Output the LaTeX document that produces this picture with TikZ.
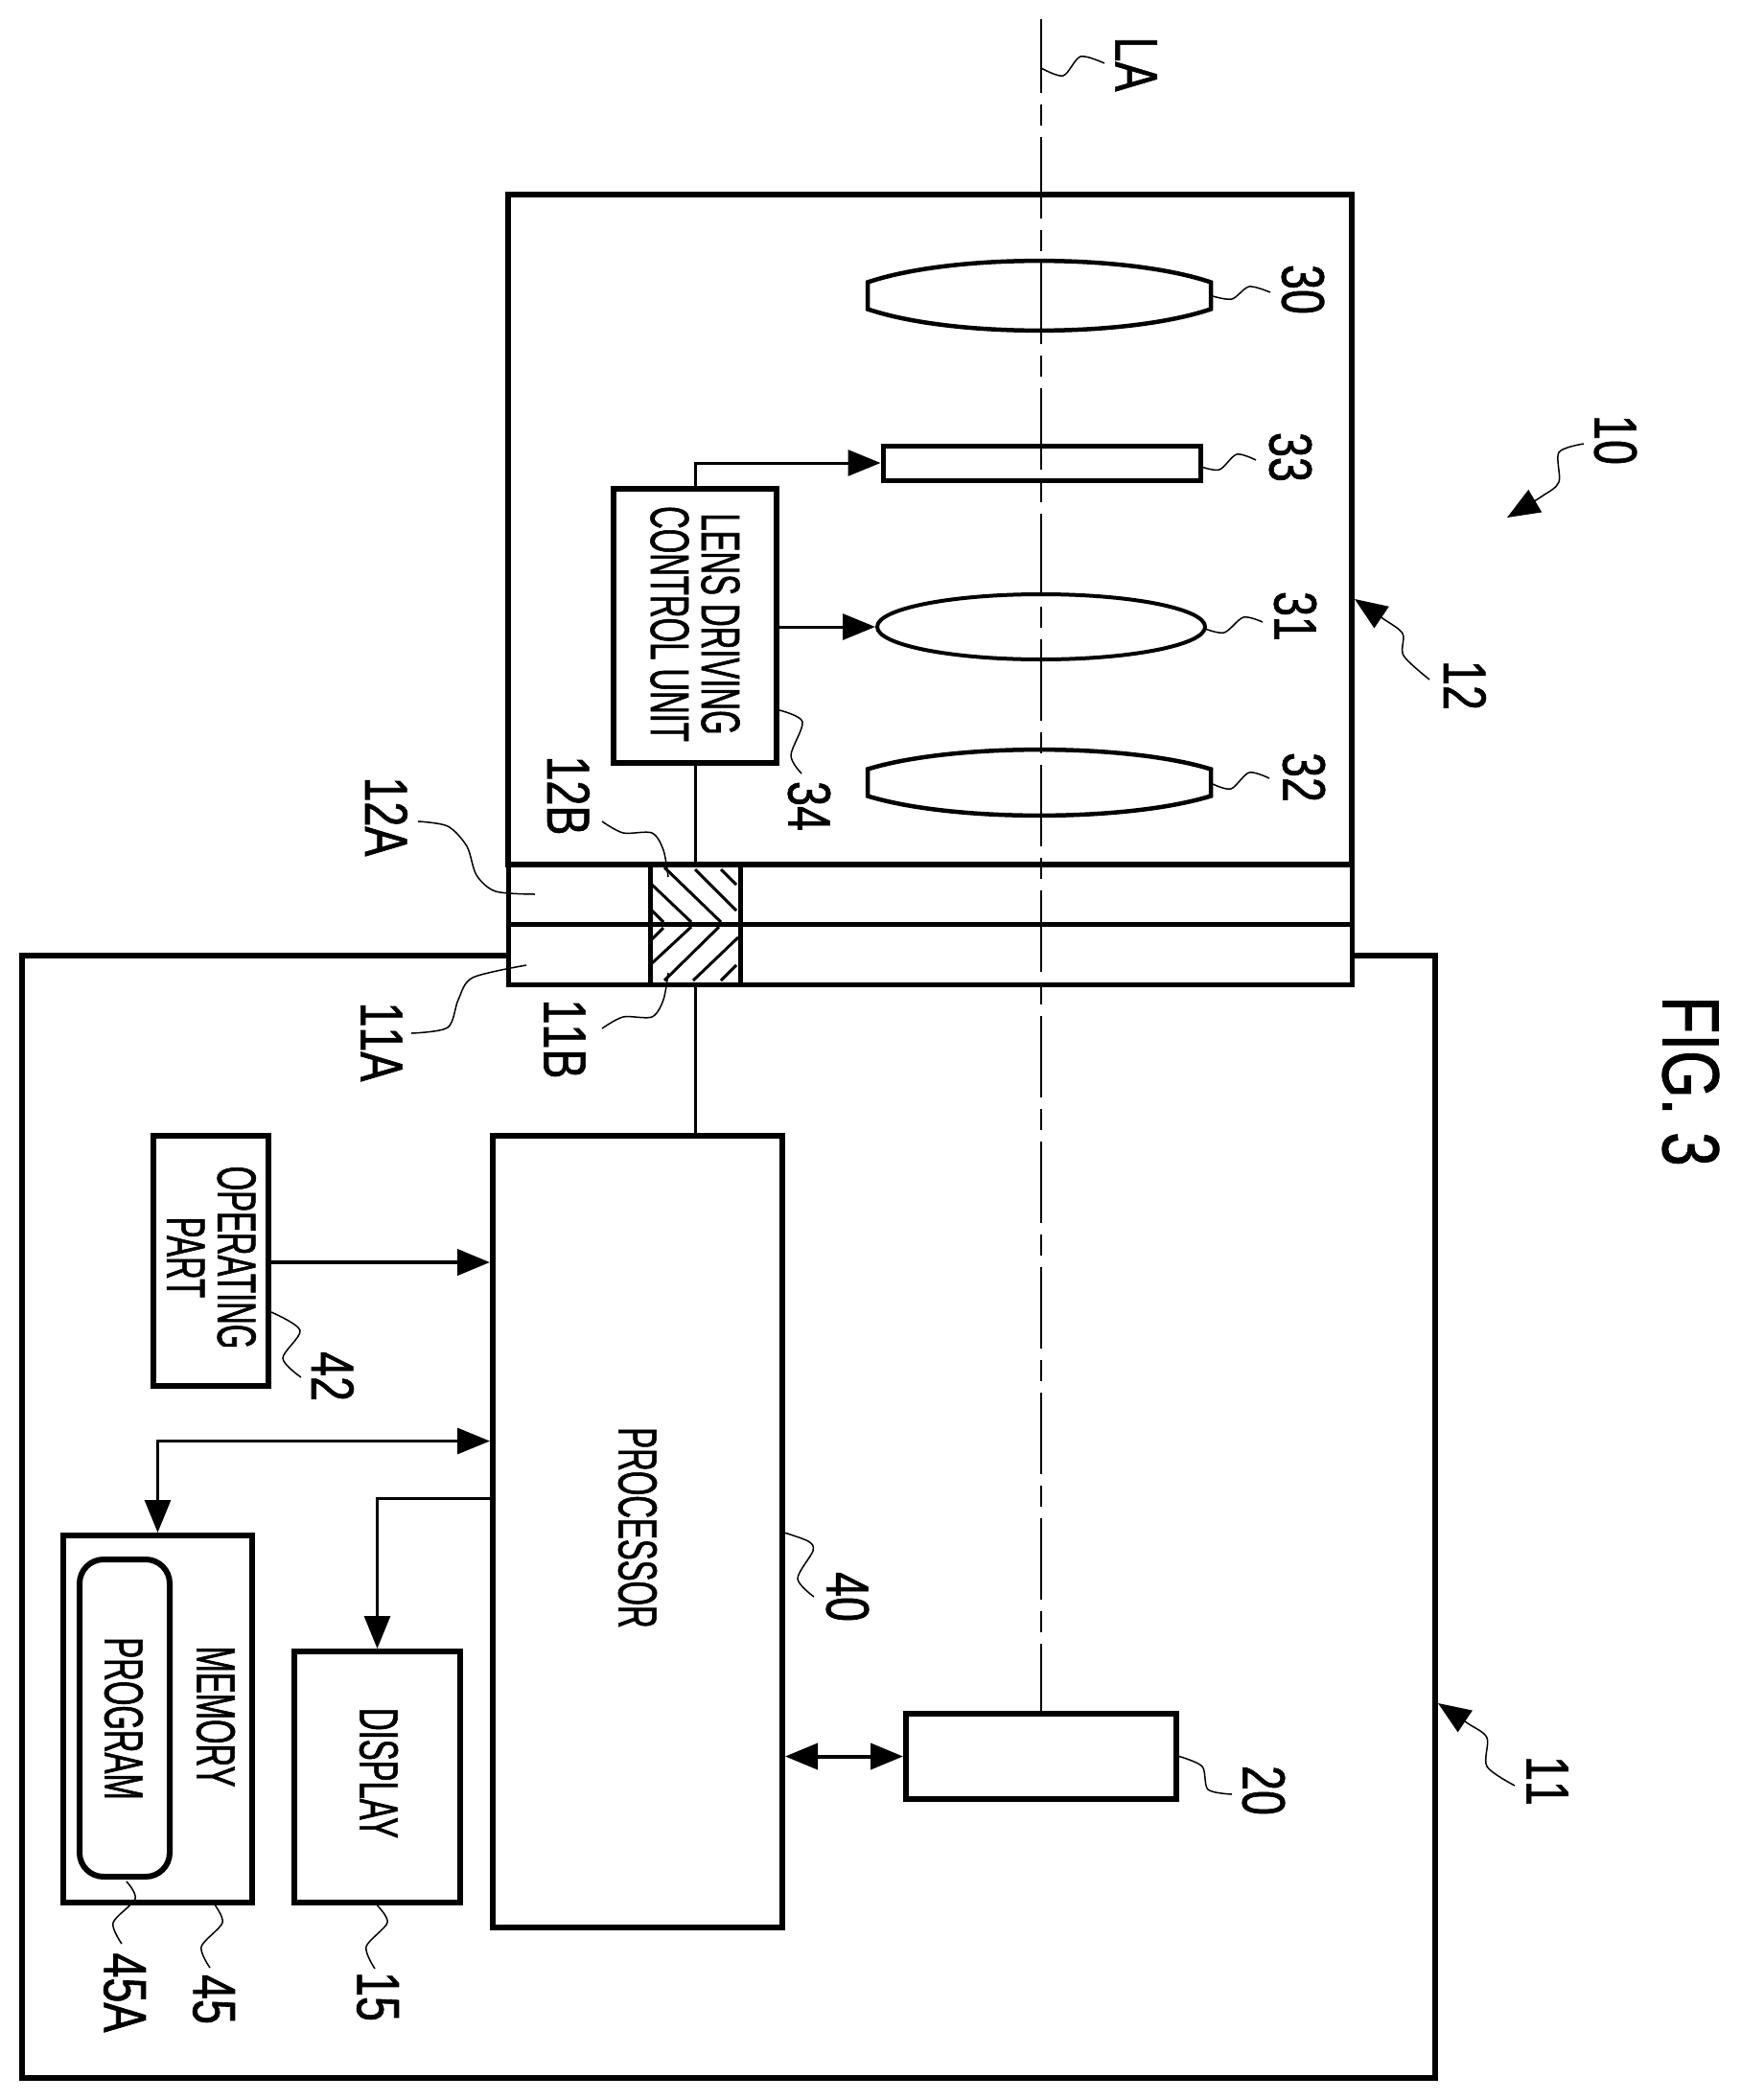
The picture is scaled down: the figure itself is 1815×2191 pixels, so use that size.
\documentclass[tikz,border=0pt]{standalone}
\usepackage{fontspec}
\setmainfont{Liberation Sans}
\newfontfamily\labelfont[FakeStretch=0.74,FakeBold=1,Kerning=Off]{Liberation Sans}
\newfontfamily\blockfont[FakeStretch=0.575,FakeBold=1]{Liberation Sans}
\newfontfamily\figfont[FakeStretch=0.76,FakeBold=1]{Liberation Sans}
\usetikzlibrary{arrows.meta,shapes.geometric}
% lens with cut ends: y centre, half height, name
\newcommand{\cutlens}[3]{
\draw [lens line] (1263,-#1+14) .. controls (1175,-#1+14+#2*1.33-18.7) and (993,-#1+14+#2*1.33-18.7) .. (905,-#1+14) -- (905,-#1-14) .. controls (993,-#1-14-#2*1.33+18.7) and (1175,-#1-14-#2*1.33+18.7) .. (1263,-#1-14) -- cycle;
\coordinate (#3) at (1084,-#1);
}
\begin{document}
\begin{tikzpicture}[x=1pt,y=1pt,
>={Triangle[length=34pt,width=27pt]},
square/.style={
% The shape:
rectangle,
draw=black,
line width=6pt,
fill=white
},
wire/.style={line width=3pt},
lens line/.style={line width=4.5pt,line join=miter},
leader/.style={line width=1.5pt},
hatch/.style={line width=3pt},
number/.style={rotate=-90,inner sep=0pt,font=\labelfont\fontsize{63}{63}\selectfont},
blocktext/.style={rotate=-90,inner sep=0pt,align=center,font=\blockfont\fontsize{57}{53}\selectfont},
axis line/.style={line width=2.5pt,dash pattern=on 85pt off 12pt on 22pt off 12pt,dash phase=8pt}
]
\useasboundingbox (0,0) rectangle (1815,-2191);
% camera body and lens unit
\node (body) [square,minimum width=1474,minimum height=1171] at (760,-1582.5) {};
\node (lensunit) [square,minimum width=880,minimum height=699] at (970,-552.5) {};
\node (mountb) [square,line width=5pt,minimum width=880,minimum height=62] at (970,-933) {};
\node (mounta) [square,line width=5pt,minimum width=880,minimum height=63] at (970,-995.5) {};
\node (contactb) [square,line width=5pt,fill=none,minimum width=94,minimum height=62] at (725,-933) {};
\node (contacta) [square,line width=5pt,fill=none,minimum width=94,minimum height=63] at (725,-995.5) {};
% hatching of the contacts
\draw [hatch] (693,-905) -- (752,-962) (725,-907) -- (768,-950) (752,-907) -- (768,-923) (680,-923) -- (721,-962) (680,-950) -- (692,-962);
\draw [hatch] (721,-967) -- (680,-1005) (692,-968) -- (680,-980) (750,-967) -- (693,-1023) (770,-978) -- (723,-1023) (768,-1007) -- (752,-1023);
% blocks
\node (filter) [square,line width=5pt,fill=none,minimum width=331,minimum height=36] at (1086.5,-483) {};
\node (lensb) [ellipse,draw=black,line width=4pt,inner sep=0pt,minimum width=342,minimum height=68] at (1086,-654) {};
\cutlens{308.5}{36.5}{lensa}
\cutlens{816.5}{34.5}{lensc}
\node (control) [square,minimum width=170,minimum height=286] at (725,-653) {};
\node (processor) [square,minimum width=302,minimum height=826] at (665,-1598) {};
\node (operating) [square,minimum width=120,minimum height=261] at (220,-1315.5) {};
\node (memory) [square,minimum width=197,minimum height=383] at (164.5,-1793.5) {};
\node (program) [square,rounded corners=25pt,fill=none,minimum width=94,minimum height=331] at (130,-1792.5) {};
\node (display) [square,minimum width=173,minimum height=262] at (393.5,-1854) {};
\node (sensor) [square,minimum width=282,minimum height=89] at (1086,-1832.5) {};
% optical axis
\coordinate (axistop) at (1086,-20);
\draw [axis line] (axistop) -- (sensor.north);
% connections
\coordinate (memoryport) at (164,-1503.5);
\coordinate (displayport) at (394,-1563);
\draw [wire] (control.south) -- (contactb.north);
\draw [wire] (contacta.south) -- (contacta.south |- processor.north);
\draw [wire,->] (control.north) |- (filter.west);
\draw [wire,->] (lensb -| control.east) -- (lensb.west);
\draw [wire,line width=4pt,->] (operating.east |- 0,-1317) -- (processor.west |- 0,-1317);
\draw [wire,<->] (processor.west |- memoryport) -| (memory.north);
\draw [wire,->] (processor.west |- displayport) -| (display.north);
\draw [wire,line width=4pt,<->] (processor.east |- sensor) -- (sensor.west);
% block texts
\node (lenstext) [blocktext] at (725,-651) {LENS DRIVING\\CONTROL UNIT};
\node (processortext) [blocktext] at (665,-1594) {PROCESSOR};
\node (operatingtext) [blocktext] at (220.5,-1312) {OPERATING\\PART};
\node (memorytext) [blocktext] at (225,-1791) {MEMORY};
\node (programtext) [blocktext] at (129,-1793) {PROGRAM};
\node (displaytext) [blocktext] at (395,-1850) {DISPLAY};
% reference numbers
\node (fig) [rotate=-90,inner sep=0pt,font=\figfont\fontsize{84}{84}\selectfont] at (1763.5,-1128) {FIG. 3};
\node (numla) [number] at (1185,-67) {LA};
\node (numten) [number] at (1685,-459) {10};
\node (numa) [number] at (1359,-302) {30};
\node (numb) [number] at (1346,-477) {33};
\node (numc) [number] at (1351,-643) {31};
\node (numd) [number] at (1360,-811) {32};
\node (numtw) [number] at (1528,-715) {12};
\node (numel) [number] at (1614,-1858) {11};
\node (nume) [number] at (844,-841) {34};
\node (numtwb) [number] at (593,-830) {12B};
\node (numelb) [number] at (589,-1084) {11B};
\node (numtwa) [number] at (403,-852) {12A};
\node (numela) [number] at (398,-1087) {11A};
\node (numop) [number] at (347,-1436) {42};
\node (numproc) [number] at (884,-1666) {40};
\node (numsen) [number] at (1318,-1868) {20};
\node (numdis) [number] at (394,-2083) {15};
\node (nummem) [number] at (223,-2086) {45};
\node (numprg) [number] at (130,-2079) {45A};
% leader lines
\draw [leader] plot[smooth] coordinates {(1086,-71) (1109,-79) (1127,-59) (1152,-66)};
\draw [leader] plot[smooth] coordinates {(1265,-309) (1285,-312) (1303,-299) (1325,-305)};
\draw [leader] plot[smooth] coordinates {(1253,-487) (1272,-490) (1290,-474) (1310,-480)};
\draw [leader] plot[smooth] coordinates {(1257,-656) (1277,-660) (1297,-644) (1317,-649)};
\draw [leader] plot[smooth] coordinates {(1265,-818) (1284,-823) (1303,-806) (1324,-812)};
\draw [leader] plot[smooth] coordinates {(813,-741) (837,-753) (825,-788) (836,-807)};
\draw [leader] plot[smooth] coordinates {(436,-857) (467,-862) (487,-883) (497,-913) (517,-930) (558,-933)};
\draw [leader] plot[smooth] coordinates {(429,-1078) (467,-1072) (478,-1043) (493,-1020) (549,-1007)};
\draw [leader] plot[smooth] coordinates {(628,-857) (650,-869) (680,-869) (692,-887) (697,-915)};
\draw [leader] plot[smooth] coordinates {(628,-1073) (650,-1061) (680,-1061) (692,-1043) (697,-1015)};
\draw [leader] plot[smooth] coordinates {(283,-1369) (313,-1388) (295,-1417) (314,-1437)};
\draw [leader] plot[smooth] coordinates {(818,-1599) (843,-1608) (848,-1618) (832,-1647) (849,-1666)};
\draw [leader] plot[smooth] coordinates {(sensor.east) (1254,-1843) (1260,-1867) (1285,-1872)};
\draw [leader] plot[smooth] coordinates {(display.south) (404,-2006) (382,-2031) (391,-2054)};
\draw [leader] plot[smooth] coordinates {(223,-1986) (232,-2006) (210,-2031) (219,-2053)};
\draw [leader] plot[smooth] coordinates {(132,-1963) (141,-1981) (118,-2006) (127,-2028)};
\draw [leader,->] plot[smooth] coordinates {(1652,-463) (1626,-472) (1626,-503) (1608,-518) (1572,-540)};
\draw [leader,->] plot[smooth] coordinates {(1491,-709) (1464,-684) (1463,-661) (1442,-645) (1413,-625)};
\draw [leader,->] plot[smooth] coordinates {(1580,-1863) (1551,-1843) (1551,-1813) (1531,-1798) (1500,-1777)};
\end{tikzpicture}
\end{document}
